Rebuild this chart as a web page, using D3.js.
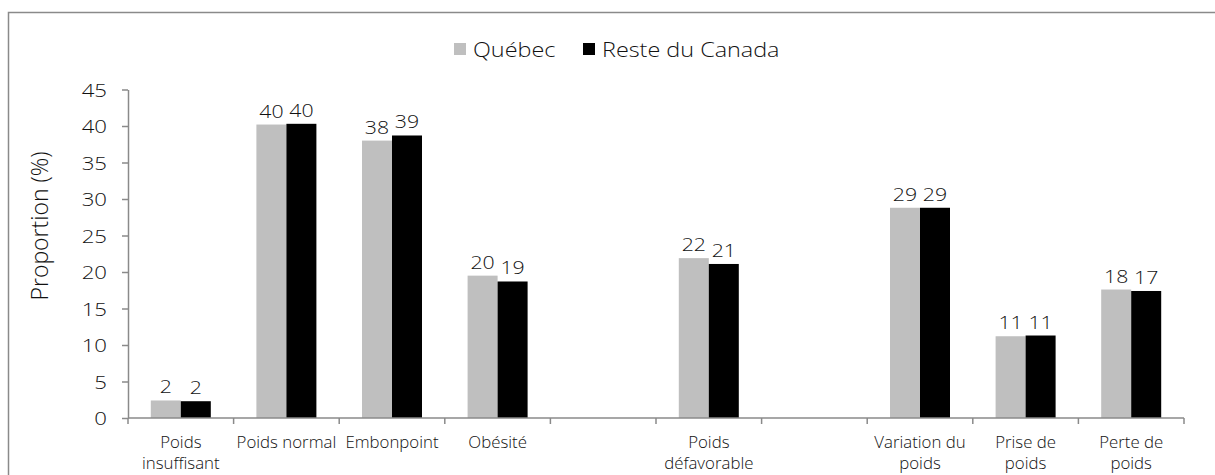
<!DOCTYPE html>
<html>
<head>
<meta charset="utf-8">
<script src="https://cdn.jsdelivr.net/npm/d3@7"></script>
<style>
  html, body { margin: 0; padding: 0; background: #fff; }
  svg { display: block; }
  text { font-family: "Open Sans", "DejaVu Sans", sans-serif; font-weight: 300; fill: #111; }
</style>
</head>
<body>
<svg id="chart" width="1215" height="475"></svg>
<script>
// ---- data ----
const categories = [
  ["Poids", "insuffisant"],
  ["Poids normal"],
  ["Embonpoint"],
  ["Obésité"],
  [],
  ["Poids", "défavorable"],
  [],
  ["Variation du", "poids"],
  ["Prise de", "poids"],
  ["Perte de", "poids"]
];
const seriesNames = ["Québec", "Reste du Canada"];
const quebec = [2.4, 40.2, 38.0, 19.5, null, 21.9, null, 28.8, 11.2, 17.6];
const resteCanada = [2.3, 40.3, 38.7, 18.7, null, 21.1, null, 28.8, 11.3, 17.4];
const yTicks = [0, 5, 10, 15, 20, 25, 30, 35, 40, 45];
const seriesColors = ["#bfbfbf", "#000000"];
const yTitle = "Proportion (%)";

// ---- layout ----
const svg = d3.select("#chart");
const plotLeft = 128, plotRight = 1184, plotTop = 89.5, plotBottom = 418;
const axisColor = "#8a8a8a";

// helper: text with horizontal stretch
function stretchedText(parent, px, py, str, size, anchor, sx) {
  return parent.append("text")
    .attr("transform", `translate(${px},${py}) scale(${sx},1)`)
    .attr("text-anchor", anchor)
    .style("font-size", size + "px")
    .text(str);
}

// frame
svg.append("path")
  .attr("d", "M8.5,475V12.5H1215")
  .attr("fill", "none")
  .attr("stroke", axisColor)
  .attr("stroke-width", 1.5);

const idx = categories.map((d, i) => i);
const x = d3.scaleBand().domain(idx).range([plotLeft, plotRight]).paddingInner(0).paddingOuter(0);
const xs = d3.scaleBand().domain([0, 1]).range([0, 60]);
const y = d3.scaleLinear().domain([0, 45]).range([plotBottom, plotTop]);

// y axis
const yAxis = svg.append("g")
  .attr("transform", `translate(${plotLeft},0)`)
  .call(d3.axisLeft(y).tickValues(yTicks).tickSize(6).tickSizeOuter(0).tickFormat(""));
yAxis.select(".domain").attr("stroke", axisColor).attr("stroke-width", 1.5);
yAxis.selectAll(".tick line").attr("stroke", axisColor).attr("stroke-width", 1.5);
yAxis.selectAll(".tick text").remove();
const yl = svg.append("g");
yTicks.forEach(t => {
  stretchedText(yl, 107, y(t) + 7, String(t), 19, "end", 1.17);
});

// y title
svg.append("text")
  .attr("transform", "translate(48,226) rotate(-90)")
  .attr("text-anchor", "middle")
  .style("font-size", "23px")
  .text(yTitle);

// bars
const series = [quebec, resteCanada];
series.forEach((vals, s) => {
  const g = svg.append("g");
  const data = vals.map((v, i) => ({ v, i })).filter(d => d.v !== null);
  g.selectAll("rect").data(data).enter().append("rect")
    .attr("x", d => x(d.i) + x.bandwidth() / 2 - 30 + xs(s))
    .attr("width", xs.bandwidth())
    .attr("y", d => y(d.v))
    .attr("height", d => y(0) - y(d.v))
    .attr("fill", seriesColors[s]);
  data.forEach(d => {
    stretchedText(g, x(d.i) + x.bandwidth() / 2 - 30 + xs(s) + xs.bandwidth() / 2,
      y(d.v) - 7, String(Math.round(d.v)), 19, "middle", 1.12);
  });
});

// x axis line and ticks
svg.append("line")
  .attr("x1", plotLeft).attr("x2", plotRight)
  .attr("y1", plotBottom).attr("y2", plotBottom)
  .attr("stroke", axisColor).attr("stroke-width", 1.5);
const bounds = idx.concat([idx.length]);
svg.selectAll(".xtick").data(bounds).enter().append("line")
  .attr("class", "xtick")
  .attr("x1", d => d < idx.length ? x(d) : x(idx.length - 1) + x.bandwidth())
  .attr("x2", d => d < idx.length ? x(d) : x(idx.length - 1) + x.bandwidth())
  .attr("y1", plotBottom).attr("y2", plotBottom + 6)
  .attr("stroke", axisColor).attr("stroke-width", 1.5);

// x labels
const xl = svg.append("g");
categories.forEach((lines, i) => {
  lines.forEach((ln, k) => {
    stretchedText(xl, x(i) + x.bandwidth() / 2, 448 + k * 21, ln, 16.5, "middle", 1.02);
  });
});

// legend
const legX = [454, 583];
seriesNames.forEach((name, s) => {
  svg.append("rect")
    .attr("x", legX[s]).attr("y", 43)
    .attr("width", 12).attr("height", 12)
    .attr("fill", seriesColors[s]);
  stretchedText(svg, legX[s] + 19, 56.5, name, 19.5, "start", 1.2);
});
</script>
</body>
</html>
